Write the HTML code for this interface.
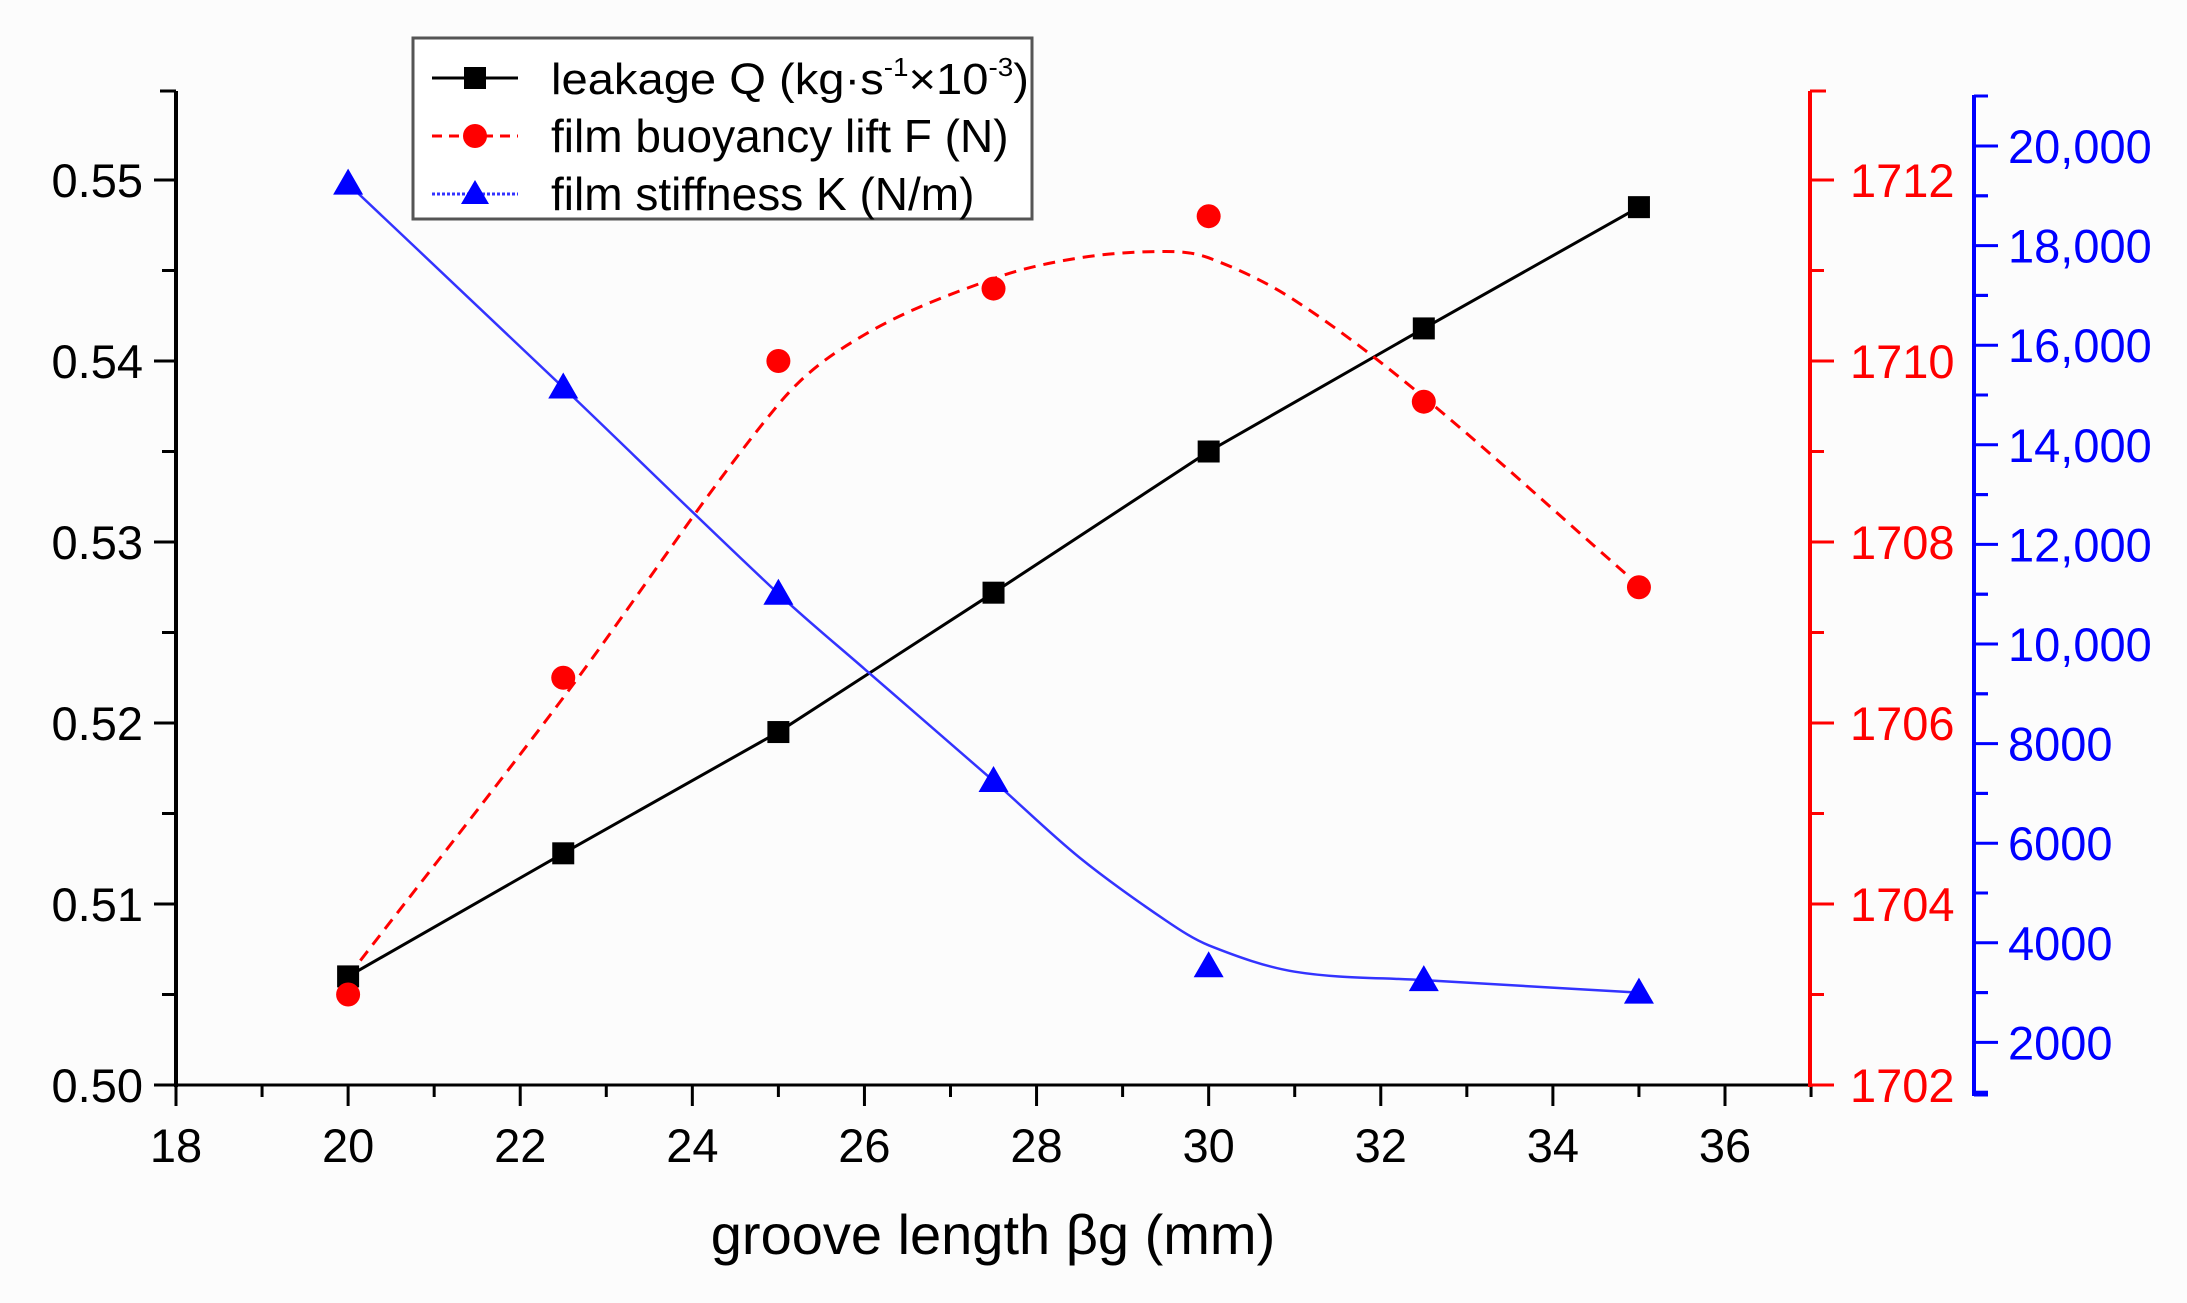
<!DOCTYPE html>
<html><head><meta charset="utf-8"><style>
html,body{margin:0;padding:0;background:#fff}
svg{display:block}
text{font-family:"Liberation Sans",sans-serif}
</style></head><body>
<svg id="c" width="2187" height="1303" viewBox="0 0 2187 1303" xmlns="http://www.w3.org/2000/svg">
<rect x="0" y="0" width="2187" height="1303" fill="#fcfcfc"/>
<g id="axes"></g><g id="series"></g>
<g>
<rect x="413" y="38" width="619" height="181" fill="#fff" stroke="#555" stroke-width="3"/>
<line x1="432" y1="78" x2="518" y2="78" stroke="#000" stroke-width="3"/>
<rect x="464" y="67" width="22" height="22" fill="#000"/>
<text x="551" y="94" font-size="44" textLength="478" lengthAdjust="spacingAndGlyphs">leakage Q (kg·s<tspan font-size="26" dy="-18">-1</tspan><tspan dy="18">×10</tspan><tspan font-size="26" dy="-18">-3</tspan><tspan dy="18">)</tspan></text>
<line x1="432" y1="136" x2="518" y2="136" stroke="#f00" stroke-width="3" stroke-dasharray="10,7"/>
<circle cx="475" cy="136" r="12" fill="#f00"/>
<text x="551" y="152" font-size="46">film buoyancy lift F (N)</text>
<line x1="432" y1="194" x2="518" y2="194" stroke="#33f" stroke-width="3" stroke-dasharray="3,2"/>
<polygon points="475,180 489,204 461,204" fill="#00f"/>
<text x="551" y="210" font-size="46">film stiffness K (N/m)</text>
</g>
<text x="993" y="1254" font-size="56" text-anchor="middle">groove length βg (mm)</text>
</svg>
<script>
const xs=[20,22.5,25,27.5,30,32.5,35];
const leakage=[0.506,0.5128,0.5195,0.5272,0.535,0.5418,0.5485];
const lift=[1703.0,1706.5,1710.0,1710.8,1711.6,1709.55,1707.5];
const stiffness=[19244,15150,11010,7250,3530,3250,3000];
const fitX=[20,22.5,25,26,27.5,28.5,29.5,30,31,32.5,35];
const liftFit=[1703.2,1706.28,1709.52,1710.29,1710.91,1711.14,1711.21,1711.14,1710.67,1709.6,1707.52];
const stiffFit=[19240,15150,11010,9500,7250,5710,4450,3950,3420,3250,3000];
const xTicks=[18,20,22,24,26,28,30,32,34,36];
const yTicks=[0.50,0.51,0.52,0.53,0.54,0.55];
const rTicks=[1702,1704,1706,1708,1710,1712];
const bTicks=[2000,4000,6000,8000,10000,12000,14000,16000,18000,20000];

const NS="http://www.w3.org/2000/svg";
const X=v=>176+(v-18)*(1725-176)/18;
const YL=v=>1085-(v-0.50)*(1085-180)/0.05;
const YR=v=>1085-(v-1702)*(1085-180)/10;
const YB=v=>146+(20000-v)/2000*99.6;
function mk(p,tag,at){const e=document.createElementNS(NS,tag);for(const k in at)e.setAttribute(k,at[k]);p.appendChild(e);return e;}
const ax=document.getElementById('axes'),se=document.getElementById('series');
const FS=47;
let e=mk(ax,'line',{x1:176,y1:91,x2:176,y2:1087,stroke:'#000','stroke-width':4});

e=mk(ax,'line',{x1:174,y1:1085,x2:1810,y2:1085,stroke:'#000','stroke-width':3});

mk(ax,'line',{x1:160,y1:91,x2:176,y2:91,stroke:'#000','stroke-width':3});
for(let i=0;i<yTicks.length;i++){const v=yTicks[i],y=YL(v);
 mk(ax,'line',{x1:154,y1:y,x2:176,y2:y,stroke:'#000','stroke-width':3});
 if(i<yTicks.length-1)mk(ax,'line',{x1:162,y1:YL(v+0.005),x2:176,y2:YL(v+0.005),stroke:'#000','stroke-width':3});
 const t=mk(ax,'text',{x:143,y:y+17,'font-size':FS,'text-anchor':'end'});t.textContent=v.toFixed(2);
 }
for(let i=0;i<xTicks.length;i++){const v=xTicks[i],x=X(v);
 mk(ax,'line',{x1:x,y1:1085,x2:x,y2:1106,stroke:'#000','stroke-width':3});
 mk(ax,'line',{x1:X(v+1),y1:1085,x2:X(v+1),y2:1097,stroke:'#000','stroke-width':3});
 const t=mk(ax,'text',{x:x,y:1162,'font-size':FS,'text-anchor':'middle'});t.textContent=v;
 }
e=mk(ax,'line',{x1:1810,y1:91,x2:1810,y2:1087,stroke:'#f00','stroke-width':4});

mk(ax,'line',{x1:1810,y1:91,x2:1826,y2:91,stroke:'#f00','stroke-width':3});
for(let i=0;i<rTicks.length;i++){const v=rTicks[i],y=YR(v);
 mk(ax,'line',{x1:1810,y1:y,x2:1834,y2:y,stroke:'#f00','stroke-width':3});
 if(i<rTicks.length-1)mk(ax,'line',{x1:1810,y1:YR(v+1),x2:1824,y2:YR(v+1),stroke:'#f00','stroke-width':3});
 const t=mk(ax,'text',{x:1850,y:y+17,'font-size':FS,fill:'#f00'});t.textContent=v;
 }
e=mk(ax,'line',{x1:1974,y1:95,x2:1974,y2:1096,stroke:'#00f','stroke-width':4});

mk(ax,'line',{x1:1974,y1:96,x2:1988,y2:96,stroke:'#00f','stroke-width':3});
mk(ax,'line',{x1:1974,y1:1095,x2:1988,y2:1095,stroke:'#00f','stroke-width':3});
for(let i=0;i<bTicks.length;i++){const v=bTicks[i],y=YB(v);
 mk(ax,'line',{x1:1974,y1:y,x2:1998,y2:y,stroke:'#00f','stroke-width':3});
 mk(ax,'line',{x1:1974,y1:YB(v-1000),x2:1988,y2:YB(v-1000),stroke:'#00f','stroke-width':3});
 if(v<20000)mk(ax,'line',{x1:1974,y1:YB(v+1000),x2:1988,y2:YB(v+1000),stroke:'#00f','stroke-width':3});
 const t=mk(ax,'text',{x:2008,y:y+17,'font-size':FS,fill:'#00f'});t.textContent=v>=10000?v.toLocaleString('en-US'):String(v);
 }
function smooth(px,py){const n=px.length,m=[];
 for(let i=0;i<n;i++){const a=Math.max(0,i-1),b=Math.min(n-1,i+1);m.push((py[b]-py[a])/(px[b]-px[a]));}
 let d='M'+px[0]+','+py[0];
 for(let i=0;i<n-1;i++){const h=(px[i+1]-px[i])/3;
 d+=' C'+(px[i]+h)+','+(py[i]+m[i]*h)+' '+(px[i+1]-h)+','+(py[i+1]-m[i+1]*h)+' '+px[i+1]+','+py[i+1];}return d;}
e=mk(se,'polyline',{points:xs.map((x,i)=>X(x)+','+YL(leakage[i])).join(' '),fill:'none',stroke:'#000','stroke-width':3});

e=mk(se,'path',{d:smooth(fitX.map(X),liftFit.map(YR)),fill:'none',stroke:'#f00','stroke-width':3,'stroke-dasharray':'12,8'});

e=mk(se,'path',{d:smooth(fitX.map(X),stiffFit.map(YB)),fill:'none',stroke:'#33f','stroke-width':2.5});

for(let i=0;i<xs.length;i++){const x=X(xs[i]);
 let m=mk(se,'rect',{x:x-11,y:YL(leakage[i])-11,width:22,height:22,fill:'#000'});
 
 m=mk(se,'circle',{cx:x,cy:YR(lift[i]),r:12,fill:'#f00'});
 
 const y=YB(stiffness[i]);
 m=mk(se,'polygon',{points:x+','+(y-15)+' '+(x+15)+','+(y+11)+' '+(x-15)+','+(y+11),fill:'#00f'});
 }
</script>
</body></html>
